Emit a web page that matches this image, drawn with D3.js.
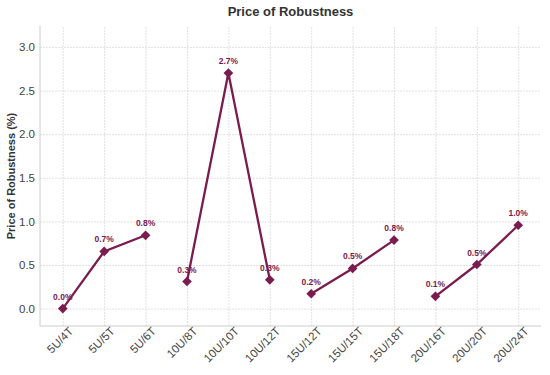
<!DOCTYPE html>
<html>
<head>
<meta charset="utf-8">
<script src="https://cdn.jsdelivr.net/npm/d3@7"></script>
<style>
  body { margin: 0; background: #fff; }
  svg { font-family: "Liberation Sans", Arial, sans-serif; }
  .grid line { stroke: #d9d9d9; stroke-width: 0.8; stroke-dasharray: 2,1; }
  .grid path { display: none; }
  .axis path, .axis line { stroke: none; }
  .axis text { fill: #444; font-size: 11.5px; }
</style>
</head>
<body>
<div id="chart"></div>
<script>
// configs, in plot order
const configs = ["5U/4T", "5U/5T", "5U/6T", "10U/8T", "10U/10T", "10U/12T",
                 "15U/12T", "15U/15T", "15U/18T", "20U/16T", "20U/20T", "20U/24T"];
// price of robustness (%)
const values = [0.0, 0.655, 0.84, 0.31, 2.70, 0.33, 0.17, 0.46, 0.785, 0.14, 0.505, 0.955];
// lines break between U groups
const groups = [[0, 1, 2], [3, 4, 5], [6, 7, 8], [9, 10, 11]];
const yTicks = [0.0, 0.5, 1.0, 1.5, 2.0, 2.5, 3.0];

const color = "#7b1c4e";

const width = 550, height = 375;
const margin = {top: 26, right: 9, bottom: 49, left: 40};
const w = width - margin.left - margin.right;
const h = height - margin.top - margin.bottom;

const svg = d3.select("#chart").append("svg")
    .attr("width", width)
    .attr("height", height);

const g = svg.append("g")
    .attr("transform", `translate(${margin.left},${margin.top})`);

// title
svg.append("text")
    .attr("x", margin.left + w / 2)
    .attr("y", 16)
    .attr("text-anchor", "middle")
    .style("font-size", "13px")
    .style("font-weight", "bold")
    .style("fill", "#333")
    .text("Price of Robustness");

// scales
const n = configs.length;
const pad = (n - 1) * 0.05;
const x = d3.scaleLinear()
    .domain([-pad, n - 1 + pad])
    .range([0, w]);

const y = d3.scaleLinear()
    .domain([-0.2, 3.24])
    .range([h, 0]);

// grid
g.append("g")
    .attr("class", "grid")
    .attr("transform", `translate(0,${h})`)
    .call(d3.axisBottom(x).tickValues(d3.range(n)).tickSize(-h).tickFormat(""));

g.append("g")
    .attr("class", "grid")
    .call(d3.axisLeft(y).tickValues(yTicks).tickSize(-w).tickFormat(""));

// spines
g.append("line").attr("x1", 0).attr("x2", 0).attr("y1", 0).attr("y2", h)
    .attr("stroke", "#ccc").attr("stroke-width", 1);
g.append("line").attr("x1", 0).attr("x2", w).attr("y1", h).attr("y2", h)
    .attr("stroke", "#ccc").attr("stroke-width", 1);

// axes
g.append("g")
    .attr("class", "axis")
    .call(d3.axisLeft(y).tickValues(yTicks).tickFormat(d3.format(".1f")).tickSize(0).tickPadding(5));

g.append("g")
    .attr("class", "axis")
    .attr("transform", `translate(0,${h})`)
    .call(d3.axisBottom(x).tickValues(d3.range(n)).tickFormat(i => configs[i]).tickSize(0).tickPadding(6))
    .selectAll("text")
    .attr("text-anchor", "end")
    .attr("dx", "0.3em")
    .attr("dy", "0.5em")
    .attr("transform", "rotate(-45)");

// y label
svg.append("text")
    .attr("transform", `translate(15,${margin.top + h / 2}) rotate(-90)`)
    .attr("text-anchor", "middle")
    .style("font-size", "11px")
    .style("font-weight", "bold")
    .style("fill", "#333")
    .text("Price of Robustness (%)");

// lines
const line = d3.line()
    .x(i => x(i))
    .y(i => y(values[i]));

g.selectAll(".seg")
    .data(groups)
    .enter().append("path")
    .attr("class", "seg")
    .attr("d", line)
    .attr("fill", "none")
    .attr("stroke", color)
    .attr("stroke-width", 2.3);

// diamond markers
g.selectAll(".marker")
    .data(values)
    .enter().append("path")
    .attr("class", "marker")
    .attr("d", d3.symbol().type(d3.symbolDiamond2).size(60))
    .attr("transform", (d, i) => `translate(${x(i)},${y(d)})`)
    .attr("fill", color);

// value labels
g.selectAll(".lbl")
    .data(values)
    .enter().append("text")
    .attr("class", "lbl")
    .attr("x", (d, i) => x(i))
    .attr("y", d => y(d) - 9)
    .attr("text-anchor", "middle")
    .style("font-size", "8.5px")
    .style("font-weight", "bold")
    .style("fill", color)
    .text(d => d3.format(".1f")(d) + "%");
</script>
</body>
</html>
